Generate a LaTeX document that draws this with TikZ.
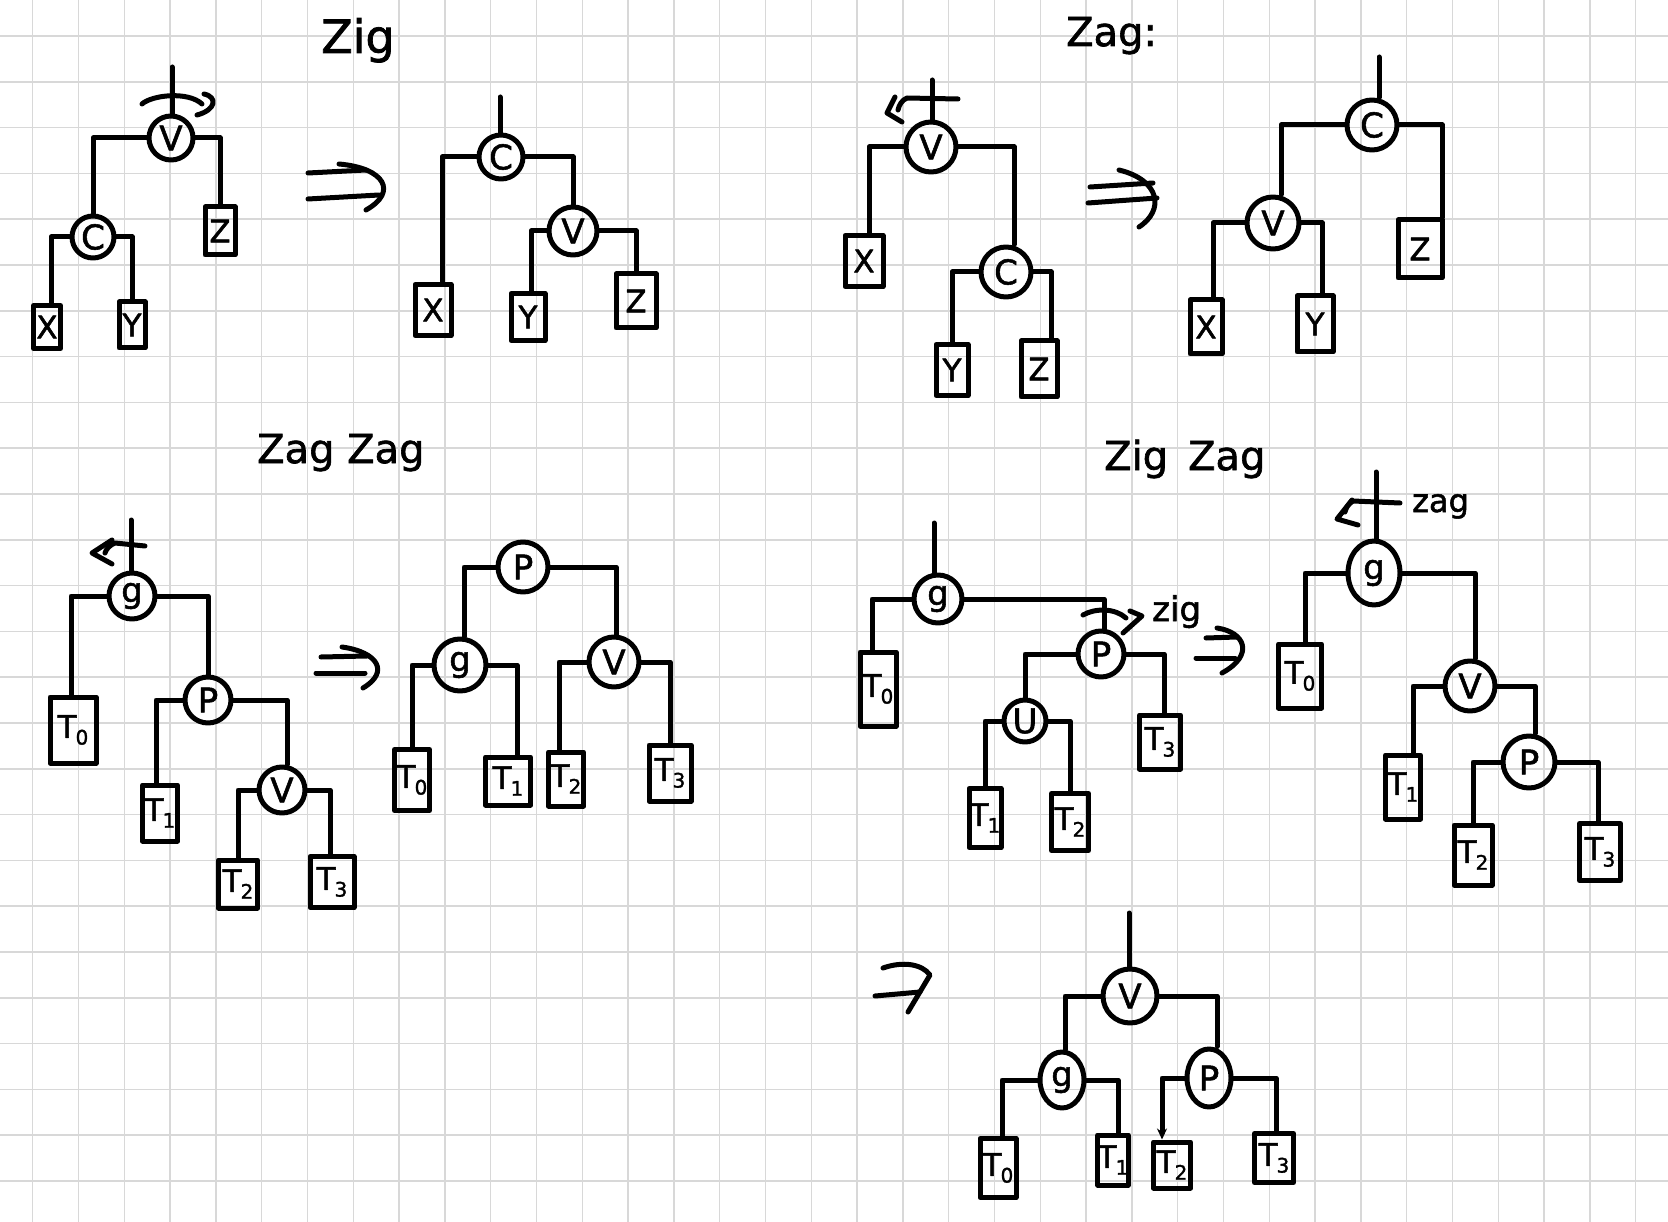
\documentclass[tikz,border=0pt]{standalone}
\usepackage{fontspec}
\setmainfont{DejaVu Sans}[FakeBold=1.6]
\usetikzlibrary{arrows.meta,shapes.geometric}
\definecolor{gridc}{RGB}{216,216,216}
\newcommand\tsubs[1]{T\kern-1pt\raisebox{-0.22em}{\fontsize{20}{20}\selectfont #1}}
\begin{document}
\begin{tikzpicture}[x=1pt,y=-1pt,
  ink/.style={line width=5pt,line cap=round,line join=round},
  nd/.style={circle,draw,ink,inner sep=0pt,minimum size=#1pt,font=\fontsize{34}{34}\selectfont},
  el/.style 2 args={ellipse,draw,ink,inner sep=0pt,minimum width=#1pt,minimum height=#2pt,font=\fontsize{34}{34}\selectfont},
  lf/.style 2 args={rectangle,draw,ink,inner sep=0pt,minimum width=#1pt,minimum height=#2pt,font=\fontsize{31}{31}\selectfont},
  ttl/.style={anchor=base west,inner sep=0pt,font=\fontsize{40}{40}\selectfont},
  gridl/.style={line width=1.5pt,draw=gridc}]
\useasboundingbox (0,0) rectangle (1668,1222);
\fill[white] (0,0) rectangle (1668,1222);
\foreach \i in {0,...,35} \draw[gridl] ({32.7+45.8*\i},0) -- ({32.7+45.8*\i},1222);
\foreach \j in {0,...,25} \draw[gridl] (0,{36+45.8*\j}) -- (1668,{36+45.8*\j});

% ---------- titles ----------
\node[ttl,font=\fontsize{46}{46}\selectfont] (t1) at (321,53) {Zig};
\node[ttl] (t2) at (1066,46) {Zag:};
\node[ttl] (t3) at (257,463) {Zag Zag};
\node[ttl] (t4) at (1104,470) {Zig\hspace{20pt}Zag};
\node[ttl,font=\fontsize{34}{34}\selectfont] (t5) at (1152,621) {zig};
\node[ttl,font=\fontsize{32}{32}\selectfont] (t6) at (1412,512) {zag};

% ---------- Zig : left ----------
\node[nd=44] (a1v) at (171,138) {V};
\node[nd=42] (a1c) at (93,237) {C};
\node[lf={27}{43}] (a1x) at (47,327) {X};
\node[lf={26}{46}] (a1y) at (132,325) {Y};
\node[lf={30}{48}] (a1z) at (220,231) {Z};
\coordinate (a1r) at (172,67);
\draw[ink] (a1r) -- (a1r |- a1v.north);
\draw[ink] (a1v.west) -| (a1c.north);
\draw[ink] (a1v.east) -| (a1z.north);
\draw[ink] (a1c.west) -| ([xshift=4pt]a1x.north);
\draw[ink] (a1c.east) -| (a1y.north);
\draw[ink] (142,104) .. controls (152,95) and (188,91) .. (202,104);
\draw[ink] (204,94) .. controls (218,97) and (216,110) .. (197,115);

% arrow 1
\draw[ink] (308,173) -- (366,170);
\draw[ink] (308,199) -- (379,195);
\draw[ink] (339,164) .. controls (385,168) and (398,192) .. (366,210);

% ---------- Zig : right ----------
\node[nd=44] (a2c) at (501,157) {C};
\node[nd=48] (a2v) at (573,231) {V};
\node[lf={36}{51}] (a2x) at (433,310) {X};
\node[lf={34}{47}] (a2y) at (528,317) {Y};
\node[lf={40}{54}] (a2z) at (636,301) {Z};
\coordinate (a2r) at (500,97);
\draw[ink] (a2r) -- (a2r |- a2c.north);
\draw[ink] (a2c.west) -| ([xshift=9pt]a2x.north);
\draw[ink] (a2c.east) -| (a2v.north);
\draw[ink] (a2v.west) -| ([xshift=3pt]a2y.north);
\draw[ink] (a2v.east) -| (a2z.north);

% ---------- Zag : left ----------
\node[nd=50] (b1v) at (931,147) {V};
\node[nd=50] (b1c) at (1006,272) {C};
\node[lf={38}{51}] (b1x) at (864,261) {X};
\node[lf={32}{51}] (b1y) at (952,370) {Y};
\node[lf={36}{56}] (b1z) at (1039,369) {Z};
\coordinate (b1r) at (932,80);
\draw[ink] (b1r) -- (b1r |- b1v.north);
\draw[ink] (b1v.west) -| ([xshift=5pt]b1x.north);
\draw[ink] (b1v.east) -| ([xshift=8pt]b1c.north);
\draw[ink] (b1c.west) -| (b1y.north);
\draw[ink] (b1c.east) -| ([xshift=12pt]b1z.north);
\draw[ink] (958,99) -- (907,98) .. controls (902,100) and (899,105) .. (898,110);
\draw[ink] (895,97) -- (887,113) -- (902,122);

% arrow 2
\draw[ink] (1090,187) -- (1153,183);
\draw[ink] (1088,203) -- (1157,198);
\draw[ink] (1119,170) .. controls (1160,180) and (1165,210) .. (1139,227);

% ---------- Zag : right ----------
\node[nd=50] (b2c) at (1372,125) {C};
\node[nd=52] (b2v) at (1273,223) {V};
\node[lf={44}{58}] (b2z) at (1420,249) {Z};
\node[lf={32}{54}] (b2x) at (1206,327) {X};
\node[lf={36}{56}] (b2y) at (1315,324) {Y};
\coordinate (b2r) at (1379,57);
\draw[ink] (b2r) -- (b2r |- b2c.north);
\draw[ink] (b2c.west) -| ([xshift=8pt]b2v.north);
\draw[ink] (b2c.east) -| ([xshift=22pt]b2z.north);
\draw[ink] (b2v.west) -| ([xshift=7pt]b2x.north);
\draw[ink] (b2v.east) -| ([xshift=7pt]b2y.north);

% ---------- Zag Zag : left ----------
\node[nd=46] (c1g) at (132,596) {g};
\node[nd=46] (c1p) at (208,700) {P};
\node[nd=46] (c1v) at (282,790) {V};
\node[lf={46}{66}] (c1t0) at (73,730) {\tsubs0};
\node[lf={35}{56}] (c1t1) at (160,813) {\tsubs1};
\node[lf={39}{48}] (c1t2) at (238,884) {\tsubs2};
\node[lf={44}{51}] (c1t3) at (332,882) {\tsubs3};
\coordinate (c1r) at (131,520);
\draw[ink] (c1r) -- (c1r |- c1g.north);
\draw[ink] (c1g.west) -| ([xshift=-2pt]c1t0.north);
\draw[ink] (c1g.east) -| (c1p.north);
\draw[ink] (c1p.west) -| ([xshift=-4pt]c1t1.north);
\draw[ink] (c1p.east) -| ([xshift=5pt]c1v.north);
\draw[ink] (c1v.west) -| (c1t2.north);
\draw[ink] (c1v.east) -| ([xshift=-2pt]c1t3.north);
\draw[ink] (145,546) -- (115,543) .. controls (110,545) and (106,549) .. (105,553);
\draw[ink] (112,540) -- (92,553) -- (112,564);

% arrow 3
\draw[ink] (321,657) -- (367,656);
\draw[ink] (316,673) -- (365,673);
\draw[ink] (342,647) .. controls (378,652) and (390,672) .. (363,688);

% ---------- Zag Zag : right ----------
\node[nd=50] (c2p) at (523,567) {P};
\node[nd=52] (c2g) at (460,665) {g};
\node[nd=50] (c2v) at (614,662) {V};
\node[lf={35}{61}] (c2t0) at (412,780) {\tsubs0};
\node[lf={45}{48}] (c2t1) at (508,781) {\tsubs1};
\node[lf={35}{54}] (c2t2) at (566,779) {\tsubs2};
\node[lf={42}{56}] (c2t3) at (670,773) {\tsubs3};
\draw[ink] (c2p.west) -| ([xshift=4pt]c2g.north);
\draw[ink] (c2p.east) -| ([xshift=2pt]c2v.north);
\draw[ink] (c2g.west) -| (c2t0.north);
\draw[ink] (c2g.east) -| ([xshift=9pt]c2t1.north);
\draw[ink] (c2v.west) -| ([xshift=-7pt]c2t2.north);
\draw[ink] (c2v.east) -| (c2t3.north);

% ---------- Zig Zag : left ----------
\node[nd=48] (d1g) at (938,599) {g};
\node[nd=46] (d1p) at (1101,654) {P};
\node[nd=42] (d1u) at (1025,721) {U};
\node[lf={36}{74}] (d1t0) at (878,689) {\tsubs0};
\node[lf={41}{54}] (d1t3) at (1160,742) {\tsubs3};
\node[lf={32}{59}] (d1t1) at (985,818) {\tsubs1};
\node[lf={37}{57}] (d1t2) at (1070,822) {\tsubs2};
\coordinate (d1r) at (934,523);
\draw[ink] (d1r) -- (d1r |- d1g.north);
\draw[ink] (d1g.west) -| ([xshift=-6pt]d1t0.north);
\draw[ink] (d1g.east) -| ([xshift=3pt]d1p.north);
\draw[ink] (d1p.west) -| (d1u.north);
\draw[ink] (d1p.east) -| ([xshift=4pt]d1t3.north);
\draw[ink] (d1u.west) -| (d1t1.north);
\draw[ink] (d1u.east) -| (d1t2.north);
\draw[ink] (1083,615) .. controls (1095,608) and (1115,608) .. (1126,618);
\draw[ink] (1130,611) -- (1142,616) -- (1123,633);

% arrow 4
\draw[ink] (1206,638) -- (1237,637);
\draw[ink] (1196,658) -- (1235,658);
\draw[ink] (1217,628) .. controls (1245,632) and (1255,655) .. (1222,673);

% ---------- Zig Zag : middle ----------
\node[el={52}{64}] (d2g) at (1374,573) {g};
\node[nd=50] (d2v) at (1470,686) {V};
\node[nd=52] (d2p) at (1529,762) {P};
\node[lf={43}{64}] (d2t0) at (1300,676) {\tsubs0};
\node[lf={35}{64}] (d2t1) at (1403,787) {\tsubs1};
\node[lf={38}{60}] (d2t2) at (1473,855) {\tsubs2};
\node[lf={41}{57}] (d2t3) at (1600,852) {\tsubs3};
\coordinate (d2r) at (1376,472);
\draw[ink] (d2r) -- (d2r |- d2g.north);
\draw[ink] (d2g.west) -| ([xshift=5pt]d2t0.north);
\draw[ink] (d2g.east) -| ([xshift=5pt]d2v.north);
\draw[ink] (d2v.west) -| ([xshift=10pt]d2t1.north);
\draw[ink] (d2v.east) -| ([xshift=6pt]d2p.north);
\draw[ink] (d2p.west) -| (d2t2.north);
\draw[ink] (d2p.east) -| ([xshift=-2pt]d2t3.north);
\draw[ink] (1400,503) -- (1353,501) .. controls (1348,504) and (1346,508) .. (1345,512);
\draw[ink] (1352,500) -- (1337,519) -- (1358,525);

% arrow 5
\draw[ink] (883,968) .. controls (903,961) and (922,964) .. (930,975) -- (908,1012);
\draw[ink] (875,996) -- (920,992);

% ---------- Zig Zag : final ----------
\node[nd=54] (ev) at (1130,996) {V};
\node[el={44}{56}] (eg) at (1062,1080) {g};
\node[el={44}{58}] (ep) at (1209,1078) {P};
\node[lf={36}{59}] (et0) at (998,1168) {\tsubs0};
\node[lf={30}{50}] (et1) at (1113,1160) {\tsubs1};
\node[lf={37}{46}] (et2) at (1172,1165) {\tsubs2};
\node[lf={39}{49}] (et3) at (1274,1158) {\tsubs3};
\coordinate (er) at (1129,913);
\draw[ink] (er) -- (er |- ev.north);
\draw[ink] (ev.west) -| ([xshift=3pt]eg.north);
\draw[ink] (ev.east) -| ([xshift=8pt]ep.north);
\draw[ink] (eg.west) -| ([xshift=4pt]et0.north);
\draw[ink] (eg.east) -| ([xshift=5pt]et1.north);
\draw[ink,-{Stealth[length=11pt,width=10pt]}] (ep.west) -| ([xshift=-10pt]et2.north);
\draw[ink] (ep.east) -| ([xshift=2pt]et3.north);
\end{tikzpicture}
\end{document}
